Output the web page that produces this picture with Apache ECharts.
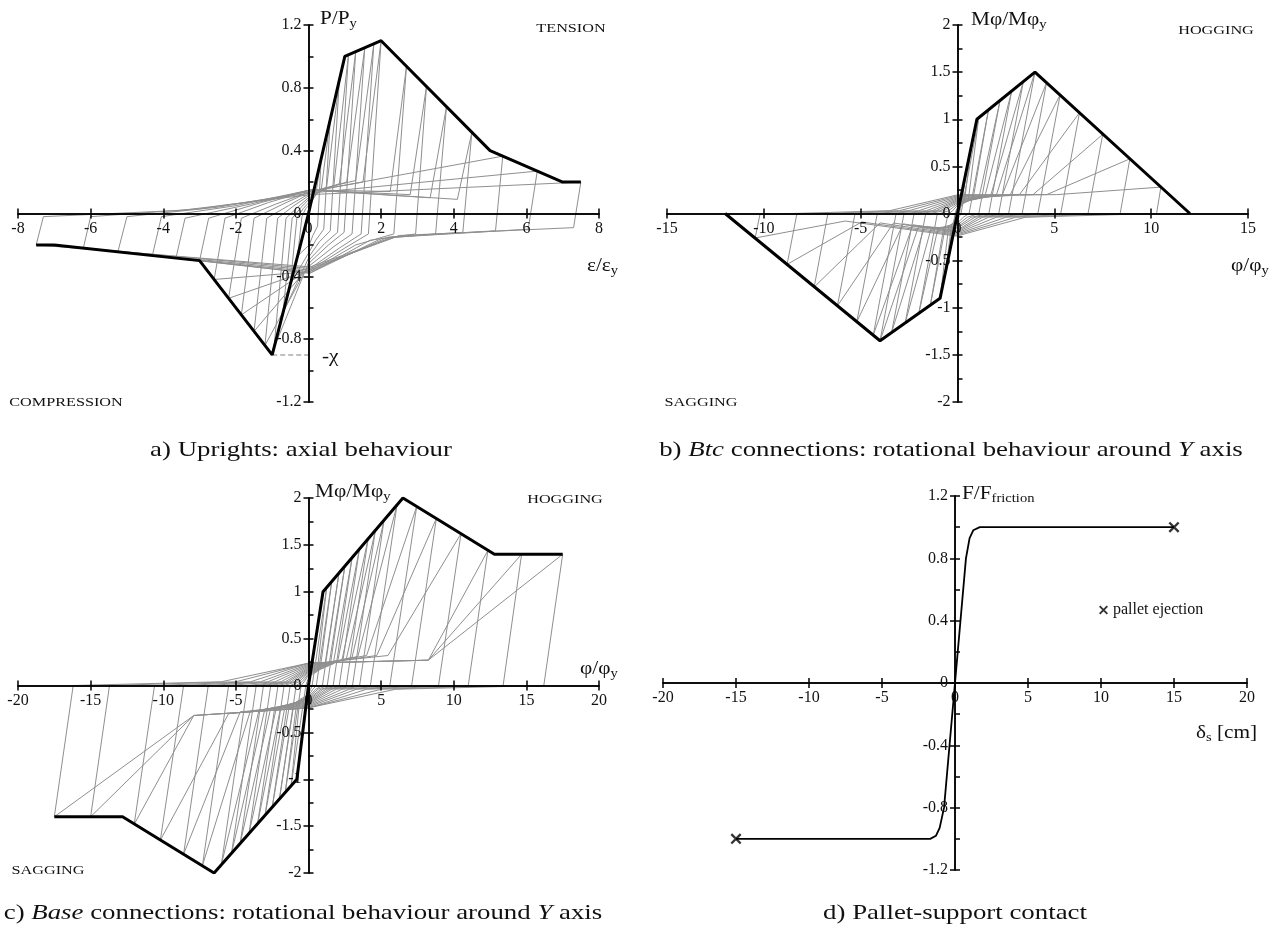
<!DOCTYPE html>
<html>
<head>
<meta charset="utf-8">
<title>Cyclic models</title>
<script src="https://cdn.jsdelivr.net/npm/echarts@6/dist/echarts.min.js"></script>
<style>
  html, body { margin: 0; padding: 0; background: #fff; }
  #chart { width: 1272px; height: 935px; }
</style>
</head>
<body>
<div id="chart"></div>
<script>
// axis ranges: [min, max, interval]
const upXAxis = [-8, 8, 2], upYAxis = [-1.2, 1.2, 0.4];
const btcXAxis = [-15, 15, 5], btcYAxis = [-2, 2, 0.5];
const baseXAxis = [-20, 20, 5], baseYAxis = [-2, 2, 0.5];
const palletXAxis = [-20, 20, 5], palletYAxis = [-1.2, 1.2, 0.4];

// a) uprights, axial behaviour
const upEnvelope = [[7.5, 0.2], [7, 0.2], [5, 0.4], [2, 1.1], [1, 1], [0, 0], [-1, -0.9], [-3, -0.3], [-7, -0.2], [-7.5, -0.2]];
const upChi = [[-1, -0.9], [0, -0.9]];
const upLoops = [
  [[-0.3, -0.27], [-0.18, -0.02], [-0.08, 0.03], [0.05, 0.06], [0.2, 0.12], [0.35, 0.35], [0.25, -0.08], [0.12, -0.14], [0.02, -0.2], [-0.3, -0.27]],
  [[-0.5, -0.45], [-0.32, -0.03], [-0.15, 0.03], [0.05, 0.08], [0.35, 0.15], [0.6, 0.6], [0.42, -0.1], [0.2, -0.17], [0.03, -0.24], [-0.5, -0.45]],
  [[-0.7, -0.63], [-0.45, -0.03], [-0.2, 0.04], [0.05, 0.1], [0.5, 0.17], [0.85, 0.85], [0.6, -0.11], [0.3, -0.18], [0.03, -0.27], [-0.7, -0.63]],
  [[-0.95, -0.855], [-0.62, -0.03], [-0.3, 0.04], [0.05, 0.11], [0.7, 0.18], [1.1, 1.01], [0.8, -0.12], [0.45, -0.19], [0.04, -0.29], [-0.95, -0.855]],
  [[-1.2, -0.84], [-0.85, -0.03], [-0.4, 0.05], [0.05, 0.12], [0.85, 0.19], [1.3, 1.03], [0.98, -0.12], [0.55, -0.2], [0.04, -0.31], [-1.2, -0.84]],
  [[-1.5, -0.75], [-1.15, -0.03], [-0.55, 0.05], [0.05, 0.13], [1.05, 0.2], [1.55, 1.055], [1.2, -0.13], [0.7, -0.21], [0.04, -0.33], [-1.5, -0.75]],
  [[-1.85, -0.645], [-1.5, -0.03], [-0.7, 0.06], [0.05, 0.14], [1.3, 0.21], [1.8, 1.08], [1.45, -0.13], [0.85, -0.22], [0.04, -0.35], [-1.85, -0.645]],
  [[-2.2, -0.54], [-1.85, -0.03], [-0.9, 0.06], [0.05, 0.14], [1.5, 0.2], [2, 1.1], [1.65, -0.13], [1, -0.22], [0.04, -0.36], [-2.2, -0.54]],
  [[-2.6, -0.42], [-2.3, -0.03], [-1.1, 0.07], [0.05, 0.15], [2.25, 0.14], [2.7, 0.94], [2.35, -0.13], [1.3, -0.2], [0.04, -0.37], [-2.6, -0.42]],
  [[-3, -0.3], [-2.75, -0.03], [-1.3, 0.07], [0.05, 0.15], [2.8, 0.12], [3.25, 0.81], [2.95, -0.13], [1.7, -0.17], [0.04, -0.38], [-3, -0.3]],
  [[-3.65, -0.284], [-3.4, -0.03], [-1.6, 0.06], [0.05, 0.15], [3.35, 0.1], [3.8, 0.68], [3.5, -0.13], [2, -0.16], [0.04, -0.38], [-3.65, -0.284]],
  [[-4.3, -0.268], [-4.05, -0.02], [-2, 0.05], [0.05, 0.15], [4.1, 0.09], [4.5, 0.52], [4.25, -0.12], [2.2, -0.15], [0.04, -0.37], [-4.3, -0.268]],
  [[-5.25, -0.244], [-5, -0.02], [-2.5, 0.04], [0.05, 0.14], [5.35, 0.365], [5.15, -0.11], [2.3, -0.15], [0.04, -0.36], [-5.25, -0.244]],
  [[-6.2, -0.22], [-6, -0.02], [-3, 0.03], [0.05, 0.13], [6.3, 0.27], [6.05, -0.1], [2.4, -0.15], [0.04, -0.35], [-6.2, -0.22]],
  [[-7.5, -0.2], [-7.3, -0.02], [-3.5, 0.02], [0.05, 0.12], [7.5, 0.2], [7.3, -0.09], [2.5, -0.14], [0.04, -0.34], [-7.5, -0.2]]
];

// b) btc connections
const btcEnvelope = [[12, 0], [4, 1.5], [1, 1], [0, 0], [-0.9, -0.9], [-4, -1.35], [-12, 0]];
const btcLoops = [
  [[-0.35, -0.35], [-0.05, 0], [0.02, 0.04], [0.2, 0.08], [0.4, 0.4], [0.06, 0], [-0.02, -0.04], [-0.18, -0.08], [-0.35, -0.35]],
  [[-0.6, -0.6], [-0.1, 0], [-0.05, 0.03], [0.05, 0.07], [0.35, 0.11], [0.7, 0.7], [0.1, 0], [0.05, -0.03], [-0.05, -0.07], [-0.3, -0.11], [-0.6, -0.6]],
  [[-0.9, -0.9], [-0.12, 0], [-0.08, 0.03], [0.05, 0.09], [0.55, 0.13], [1.1, 1.02], [0.18, 0], [0.1, -0.03], [-0.05, -0.09], [-0.45, -0.13], [-0.9, -0.9]],
  [[-1.4, -0.97], [-0.5, -0.01], [-0.25, 0.03], [0.05, 0.1], [0.8, 0.15], [1.6, 1.1], [0.6, 0], [0.3, -0.04], [-0.05, -0.11], [-0.7, -0.14], [-1.4, -0.97]],
  [[-2, -1.06], [-1.05, -0.01], [-0.45, 0.03], [0.05, 0.11], [1.1, 0.16], [2.2, 1.2], [1.1, 0], [0.5, -0.04], [-0.05, -0.13], [-1, -0.15], [-2, -1.06]],
  [[-2.7, -1.16], [-1.65, -0.01], [-0.7, 0.03], [0.05, 0.12], [1.4, 0.17], [2.8, 1.3], [1.62, 0], [0.7, -0.04], [-0.05, -0.15], [-1.35, -0.15], [-2.7, -1.16]],
  [[-3.4, -1.26], [-2.25, -0.01], [-0.9, 0.03], [0.05, 0.13], [1.7, 0.18], [3.4, 1.4], [2.13, 0], [0.9, -0.04], [-0.05, -0.16], [-1.7, -0.14], [-3.4, -1.26]],
  [[-4, -1.35], [-2.77, -0.01], [-1.1, 0.03], [0.05, 0.14], [2, 0.19], [4, 1.5], [2.64, 0], [1.1, -0.04], [-0.05, -0.18], [-2, -0.13], [-4, -1.35]],
  [[-4.35, -1.29], [-3.18, -0.01], [-1.3, 0.03], [0.05, 0.15], [2.3, 0.19], [4.6, 1.39], [3.34, 0], [1.3, -0.04], [-0.05, -0.19], [-2.3, -0.12], [-4.35, -1.29]],
  [[-5.2, -1.15], [-4.15, -0.01], [-1.6, 0.03], [0.05, 0.16], [2.7, 0.19], [5.3, 1.26], [4.15, 0], [1.6, -0.04], [-0.05, -0.2], [-2.8, -0.11], [-5.2, -1.15]],
  [[-6.2, -0.98], [-5.3, -0.01], [-2, 0.03], [0.05, 0.17], [3.2, 0.2], [6.3, 1.07], [5.33, 0], [2, -0.04], [-0.05, -0.21], [-3.3, -0.1], [-6.2, -0.98]],
  [[-7.4, -0.78], [-6.7, -0.01], [-2.5, 0.03], [0.05, 0.18], [3.9, 0.2], [7.5, 0.84], [6.74, 0], [2.5, -0.04], [-0.05, -0.22], [-4, -0.1], [-7.4, -0.78]],
  [[-8.8, -0.54], [-8.3, -0.01], [-3, 0.03], [0.05, 0.19], [4.6, 0.2], [8.9, 0.58], [8.4, 0], [3, -0.04], [-0.05, -0.23], [-4.95, -0.09], [-8.8, -0.54]],
  [[-10.45, -0.26], [-10.2, -0.01], [-3.5, 0.03], [0.05, 0.2], [5.1, 0.2], [10.5, 0.28], [10.28, 0], [3.5, -0.04], [-0.05, -0.24], [-5.8, -0.08], [-10.45, -0.26]]
];

// c) base connections
const baseEnvelope = [[17.5, 1.4], [12.8, 1.4], [6.5, 2], [1, 1], [0, 0], [-0.8, -1], [-6.5, -2], [-12.8, -1.4], [-17.5, -1.4]];
const baseLoops = [
  [[-1.2, -1.07], [-0.18, 0], [-0.1, 0.04], [0.05, 0.1], [0.6, 0.15], [1.25, 1.045], [0.25, 0], [0.15, -0.04], [-0.05, -0.1], [-0.6, -0.15], [-1.2, -1.07]],
  [[-1.6, -1.14], [-0.51, 0], [-0.3, 0.04], [0.05, 0.12], [0.8, 0.17], [1.6, 1.11], [0.54, 0], [0.3, -0.04], [-0.05, -0.12], [-0.8, -0.17], [-1.6, -1.14]],
  [[-2, -1.21], [-0.85, 0], [-0.45, 0.04], [0.05, 0.13], [1.1, 0.19], [2.1, 1.2], [0.96, 0], [0.5, -0.04], [-0.05, -0.13], [-1, -0.19], [-2, -1.21]],
  [[-2.5, -1.3], [-1.26, 0], [-0.65, 0.04], [0.05, 0.14], [1.4, 0.21], [2.5, 1.27], [1.29, 0], [0.65, -0.04], [-0.05, -0.14], [-1.3, -0.2], [-2.5, -1.3]],
  [[-3, -1.39], [-1.68, 0], [-0.85, 0.04], [0.05, 0.15], [1.7, 0.23], [3, 1.36], [1.7, 0], [0.85, -0.04], [-0.05, -0.15], [-1.6, -0.21], [-3, -1.39]],
  [[-3.5, -1.47], [-2.1, 0], [-1, 0.04], [0.05, 0.16], [2, 0.25], [3.5, 1.45], [2.12, 0], [1, -0.04], [-0.05, -0.16], [-1.9, -0.22], [-3.5, -1.47]],
  [[-4.1, -1.58], [-2.6, 0], [-1.2, 0.04], [0.05, 0.17], [2.3, 0.27], [4.1, 1.56], [2.6, 0], [1.2, -0.04], [-0.05, -0.17], [-2.2, -0.23], [-4.1, -1.58]],
  [[-4.7, -1.68], [-3.1, 0], [-1.4, 0.04], [0.05, 0.18], [2.6, 0.28], [4.6, 1.65], [3.03, 0], [1.4, -0.04], [-0.05, -0.18], [-2.6, -0.24], [-4.7, -1.68]],
  [[-5.3, -1.79], [-3.6, 0], [-1.6, 0.04], [0.05, 0.19], [3, 0.3], [5.2, 1.76], [3.52, 0], [1.6, -0.04], [-0.05, -0.19], [-3, -0.25], [-5.3, -1.79]],
  [[-6, -1.91], [-4.2, 0], [-1.9, 0.04], [0.05, 0.2], [3.4, 0.31], [6.1, 1.93], [4.26, 0], [1.9, -0.04], [-0.05, -0.2], [-3.4, -0.26], [-6, -1.91]],
  [[-7.3, -1.92], [-5.5, 0], [-2.3, 0.04], [0.05, 0.21], [4, 0.32], [7.45, 1.91], [5.6, 0], [2.3, -0.04], [-0.05, -0.21], [-4, -0.27], [-7.3, -1.92]],
  [[-8.6, -1.8], [-6.9, 0], [-2.8, 0.04], [0.05, 0.22], [4.7, 0.32], [8.8, 1.78], [7.1, 0], [2.8, -0.04], [-0.05, -0.22], [-4.7, -0.28], [-8.6, -1.8]],
  [[-10.2, -1.65], [-8.6, 0], [-3.3, 0.04], [0.05, 0.23], [5.47, 0.32], [10.5, 1.62], [8.95, 0], [3.3, -0.04], [-0.05, -0.23], [-5.5, -0.3], [-10.2, -1.65]],
  [[-12, -1.48], [-10.6, 0], [-4, 0.04], [0.05, 0.24], [8.25, 0.27], [12.35, 1.44], [11, 0], [4, -0.04], [-0.05, -0.24], [-7.9, -0.32], [-12, -1.48]],
  [[-15, -1.4], [-13.7, 0], [-5, 0.04], [0.05, 0.24], [8.25, 0.27], [14.67, 1.4], [13.4, 0], [5, -0.04], [-0.05, -0.24], [-7.9, -0.32], [-15, -1.4]],
  [[-17.5, -1.4], [-16.2, 0], [-6, 0.04], [0.05, 0.24], [8.25, 0.27], [17.5, 1.4], [16.2, 0], [6, -0.04], [-0.05, -0.24], [-7.9, -0.32], [-17.5, -1.4]]
];

// d) pallet-support contact
const palletCurve = [[-15, -1], [-1.7, -1], [-1.3, -0.98], [-1.05, -0.93], [-0.75, -0.8], [0, 0], [0.75, 0.8], [1, 0.93], [1.25, 0.98], [1.7, 1], [15, 1]];
const palletEjection = [[-15, -1], [15, 1]];

const SERIF = '"Liberation Serif", "Times New Roman", serif';
const GRAY = '#8f8f8f';
const INK = '#000';

const grids = [
  { left: 18, top: 25, width: 581, height: 377 },
  { left: 667, top: 25, width: 581, height: 377 },
  { left: 18, top: 498, width: 581, height: 375 },
  { left: 663, top: 496, width: 584, height: 374 }
];
const ranges = [[upXAxis, upYAxis], [btcXAxis, btcYAxis], [baseXAxis, baseYAxis], [palletXAxis, palletYAxis]];

const fmt = v => String(Math.round(v * 100) / 100);
const lineStyle = { color: INK, width: 1.5 };
const labelStyle = { fontFamily: SERIF, fontSize: 16, color: '#111' };

// axes are pulled into the plot with a negative offset so they cross at 0
const xAxis = [], yAxis = [];
ranges.forEach(([xr, yr], gi) => {
  const g = grids[gi];
  const below = g.height * (0 - yr[0]) / (yr[1] - yr[0]);
  const above = g.height * yr[1] / (yr[1] - yr[0]);
  const leftOf = g.width * (0 - xr[0]) / (xr[1] - xr[0]);
  const rightOf = g.width * xr[1] / (xr[1] - xr[0]);
  ['bottom', 'top'].forEach((pos, k) => xAxis.push({
    gridIndex: gi, type: 'value', position: pos, offset: -(k === 0 ? below : above),
    min: xr[0], max: xr[1], interval: xr[2], z: 3,
    axisLine: { onZero: false, lineStyle },
    axisTick: { length: 5, lineStyle },
    axisLabel: Object.assign({ show: k === 0, margin: 7, formatter: fmt }, labelStyle),
    splitLine: { show: false }
  }));
  ['left', 'right'].forEach((pos, k) => yAxis.push({
    gridIndex: gi, type: 'value', position: pos, offset: -(k === 0 ? leftOf : rightOf),
    min: yr[0], max: yr[1], interval: yr[2], z: 3,
    axisLine: { onZero: false, lineStyle },
    axisTick: { length: 5, lineStyle },
    minorTick: { show: k === 1, splitNumber: 2, length: 5, lineStyle },
    axisLabel: Object.assign({ show: k === 0, margin: 7, formatter: fmt }, labelStyle),
    splitLine: { show: false }
  }));
});

function loops(list, gi) {
  return list.map(d => ({
    type: 'line', xAxisIndex: gi * 2, yAxisIndex: gi * 2, data: d, symbol: 'none',
    silent: true, z: 1, lineStyle: { color: GRAY, width: 1 }
  }));
}
function envelope(d, gi) {
  return {
    type: 'line', xAxisIndex: gi * 2, yAxisIndex: gi * 2, data: d, symbol: 'none',
    silent: true, z: 4, lineStyle: { color: INK, width: 3 }
  };
}

const cross = 'path://M0,1.5L1.5,0L10,8.5L8.5,10ZM8.5,0L10,1.5L1.5,10L0,8.5Z';

const series = [].concat(
  loops(upLoops, 0), [envelope(upEnvelope, 0)],
  [{ type: 'line', xAxisIndex: 0, yAxisIndex: 0, data: upChi, symbol: 'none', silent: true, z: 2,
     lineStyle: { color: '#aaa', width: 1.5, type: [5, 3] } }],
  loops(btcLoops, 1), [envelope(btcEnvelope, 1)],
  loops(baseLoops, 2), [envelope(baseEnvelope, 2)],
  [{ type: 'line', xAxisIndex: 6, yAxisIndex: 6, data: palletCurve, symbol: 'none', silent: true, z: 4,
     lineStyle: { color: INK, width: 1.8 } },
   { type: 'scatter', name: 'pallet ejection', xAxisIndex: 6, yAxisIndex: 6, data: palletEjection,
     symbol: cross, symbolSize: 11, z: 5, itemStyle: { color: INK } }]
);

const rich = {
  n: { fontFamily: SERIF, fontSize: 19, fill: '#111' },
  s: { fontFamily: SERIF, fontSize: 13, fill: '#111', padding: [10, 0, 0, 0] },
  t: { fontFamily: SERIF, fontSize: 13.5, fill: '#111' },
  c: { fontFamily: SERIF, fontSize: 22, fill: '#111' },
  i: { fontFamily: SERIF, fontSize: 22, fontStyle: 'italic', fill: '#111' }
};
function txt(x, y, text, align, sx) {
  return { type: 'text', x, y, scaleX: sx || 1.12, silent: true, z: 10,
    style: { text, rich, align: align || 'left', verticalAlign: 'middle' } };
}

const graphic = [
  txt(320, 19, '{n|P/P}{s|y}'),
  txt(571, 28, '{t|TENSION}', 'center', 1.2),
  txt(587, 266, '{n|ε/ε}{s|y}'),
  txt(66, 402, '{t|COMPRESSION}', 'center', 1.2),
  txt(322, 357, '{n|-χ}'),
  txt(301, 450, '{c|a) Uprights: axial behaviour}', 'center', 1.22),

  txt(971, 20, '{n|Mφ/Mφ}{s|y}'),
  txt(1216, 30, '{t|HOGGING}', 'center', 1.2),
  txt(1231, 266, '{n|φ/φ}{s|y}'),
  txt(701, 402, '{t|SAGGING}', 'center', 1.2),
  txt(951, 450, '{c|b) }{i|Btc}{c| connections: rotational behaviour around }{i|Y}{c| axis}', 'center', 1.22),

  txt(315, 492, '{n|Mφ/Mφ}{s|y}'),
  txt(565, 499, '{t|HOGGING}', 'center', 1.2),
  txt(580, 669, '{n|φ/φ}{s|y}'),
  txt(48, 870, '{t|SAGGING}', 'center', 1.2),
  txt(303, 913, '{c|c) }{i|Base}{c| connections: rotational behaviour around }{i|Y}{c| axis}', 'center', 1.22),

  txt(962, 494, '{n|F/F}{s|friction}'),
  txt(1196, 733, '{n|δ}{s|s}{n| [cm]}'),
  txt(955, 913, '{c|d) Pallet-support contact}', 'center', 1.22)
];

const chart = echarts.init(document.getElementById('chart'));
chart.setOption({
  animation: false,
  backgroundColor: '#fff',
  grid: grids,
  xAxis,
  yAxis,
  legend: {
    data: ['pallet ejection'], left: 1094, top: 597, itemWidth: 9, itemHeight: 9, itemGap: 6,
    textStyle: { fontFamily: SERIF, fontSize: 16, color: '#111' }
  },
  graphic,
  series
});
</script>
</body>
</html>
